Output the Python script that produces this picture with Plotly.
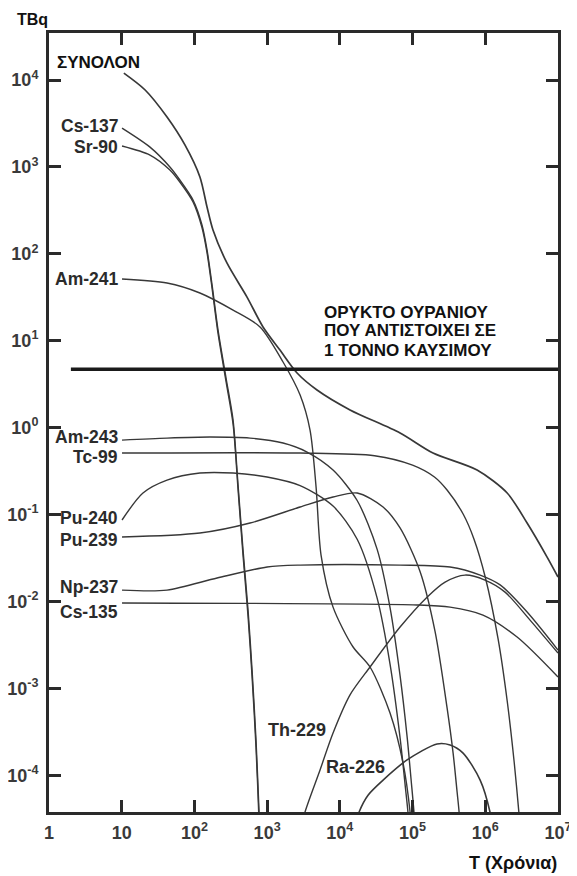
import math
import plotly.graph_objects as go

# ---------------- data (years, TBq) ----------------
total_T = [10.7, 21, 42, 74, 119, 149, 180, 281, 529, 878, 1500, 2580, 4850, 13800, 67300, 191000, 771000, 2.0e6, 3.76e6, 7.08e6, 1.0e7]
total_A = [12000, 7680, 3750, 1790, 766, 346, 188, 78, 31.8, 14.4, 7.8, 4.25, 2.71, 1.60, 0.868, 0.510, 0.325, 0.177, 0.0798, 0.0324, 0.0191]

cs137_T = [10.1, 24.5, 46, 63, 95.7, 127, 149, 175, 211, 272, 340, 398, 466, 546, 620, 703, 774, 850]
cs137_A = [2800, 1690, 998, 707, 416, 215, 111, 43.6, 13.3, 3.72, 1.22, 0.219, 0.039, 7.96e-3, 1.63e-3, 2.54e-4, 3.78e-5, 5e-6]

sr90_T = [10.1, 24.5, 46, 63, 95.7, 127, 149, 175, 211, 272, 340, 398, 466, 546, 620, 703, 770, 845]
sr90_A = [1740, 1370, 921, 670, 395, 200, 103, 40, 12.2, 3.4, 1.1, 0.195, 0.034, 6.8e-3, 1.38e-3, 2.1e-4, 3.3e-5, 4e-6]

am241_T = [10.1, 42, 119, 340, 798, 1655, 2840, 3890, 4710, 5510, 8060, 15200, 26000, 49000, 74000, 92400, 110000]
am241_A = [51.3, 46.1, 35.4, 22.5, 14.4, 5.69, 2.37, 0.937, 0.207, 0.0342, 8.6e-3, 2.99e-3, 1.76e-3, 5.2e-4, 1.38e-4, 3.78e-5, 5e-6]

am243_T = [10.1, 42, 164, 582, 1655, 3540, 8060, 17300, 32500, 49000, 67300, 84000, 95300, 105000, 120000]
am243_A = [0.719, 0.758, 0.78, 0.758, 0.665, 0.524, 0.325, 0.145, 0.040, 8.5e-3, 1.4e-3, 2.8e-4, 9e-5, 3.6e-5, 6e-6]

tc99_T = [10.1, 2840, 30000, 100000, 200000, 300000, 500000, 700000, 1.0e6, 1.5e6, 2.0e6, 2.5e6, 2.9e6, 3.3e6]
tc99_A = [0.51, 0.51, 0.475, 0.37, 0.27, 0.19, 0.10, 0.052, 0.019, 3.7e-3, 7.2e-4, 1.4e-4, 3.7e-5, 1e-5]

pu240_T = [10.1, 19.6, 42, 119, 340, 997, 2840, 8060, 17300, 32500, 49000, 67300, 80000, 87000, 100000]
pu240_A = [0.0865, 0.177, 0.249, 0.300, 0.300, 0.270, 0.215, 0.125, 0.052, 0.011, 1.9e-3, 2.7e-4, 7e-5, 3.5e-5, 5e-6]

pu239_T = [10.1, 119, 582, 2840, 8060, 17300, 39300, 67300, 127000, 204000, 298000, 361000, 409000, 436000, 500000]
pu239_A = [0.0551, 0.0612, 0.0798, 0.122, 0.159, 0.177, 0.122, 0.07, 0.022, 4.5e-3, 6e-4, 1.8e-4, 6.5e-5, 3.8e-5, 6e-6]

np237_T = [10.1, 42, 205, 999, 2840, 67300, 328000, 850000, 1.6e6, 3.76e6, 1.0e7]
np237_A = [0.0135, 0.0135, 0.0186, 0.0249, 0.0262, 0.0262, 0.0249, 0.0201, 0.0155, 7.55e-3, 2.76e-3]

cs135_T = [10.1, 115000, 328000, 930000, 2.74e6, 1.0e7]
cs135_A = [9.6e-3, 9.1e-3, 8.6e-3, 6.97e-3, 3.89e-3, 1.35e-3]

th229_T = [3000, 3320, 5340, 8060, 13800, 26000, 67300, 158000, 280000, 527000, 990000, 1.87e6, 4.13e6, 1.0e7]
th229_A = [2.6e-5, 3.78e-5, 1.15e-4, 3.06e-4, 8.4e-4, 1.76e-3, 5.07e-3, 0.0112, 0.0167, 0.0201, 0.0176, 0.0128, 6.1e-3, 2.55e-3]

ra226_T = [16000, 18400, 24400, 39300, 84000, 217000, 328000, 495000, 850000, 1.16e6, 1.3e6]
ra226_A = [2.5e-5, 3.78e-5, 5.9e-5, 8.8e-5, 1.5e-4, 2.29e-4, 2.23e-4, 1.8e-4, 8.8e-5, 3.78e-5, 2e-5]

ore_T = [2, 1.0e7]
ore_A = [4.7, 4.7]

x_tickvals = [1, 10, 1e2, 1e3, 1e4, 1e5, 1e6, 1e7]
x_ticktext = ["1", "10", "10<sup>2</sup>", "10<sup>3</sup>", "10<sup>4</sup>", "10<sup>5</sup>", "10<sup>6</sup>", "10<sup>7</sup>"]
y_tickvals = [1e-4, 1e-3, 1e-2, 1e-1, 1, 10, 1e2, 1e3, 1e4]
y_ticktext = ["10<sup>-4</sup>", "10<sup>-3</sup>", "10<sup>-2</sup>", "10<sup>-1</sup>", "10<sup>0</sup>",
              "10<sup>1</sup>", "10<sup>2</sup>", "10<sup>3</sup>", "10<sup>4</sup>"]

ore_lines = ["ΟΡΥΚΤΟ ΟΥΡΑΝΙΟΥ", "ΠΟΥ ΑΝΤΙΣΤΟΙΧΕΙ ΣΕ", "1 ΤΟΝΝΟ ΚΑΥΣΙΜΟΥ"]

# ---------------- figure ----------------
FONT = "Liberation Sans, Arial, sans-serif"
LINE = "#383838"
TXT = "#2b2b2b"

fig = go.Figure()

curves = [
    ("ΣΥΝΟΛΟΝ", total_T, total_A, 1.7),
    ("Cs-137", cs137_T, cs137_A, 1.4),
    ("Sr-90", sr90_T, sr90_A, 1.4),
    ("Am-241", am241_T, am241_A, 1.4),
    ("Am-243", am243_T, am243_A, 1.4),
    ("Tc-99", tc99_T, tc99_A, 1.4),
    ("Pu-240", pu240_T, pu240_A, 1.4),
    ("Pu-239", pu239_T, pu239_A, 1.4),
    ("Np-237", np237_T, np237_A, 1.4),
    ("Cs-135", cs135_T, cs135_A, 1.4),
    ("Th-229", th229_T, th229_A, 1.4),
    ("Ra-226", ra226_T, ra226_A, 1.6),
]
for name, T, A, w in curves:
    fig.add_trace(go.Scatter(x=T, y=A, mode="lines", name=name,
                             line=dict(color=LINE, width=w, shape="spline", smoothing=0.8),
                             showlegend=False, hoverinfo="skip"))

fig.add_trace(go.Scatter(x=ore_T, y=ore_A, mode="lines", name="ore",
                         line=dict(color="#1a1a1a", width=3.5),
                         showlegend=False, hoverinfo="skip"))

# curve labels at the start of each curve (right-aligned, left of the start)
start_labels = [
    ("Cs-137", cs137_T, cs137_A, 2),
    ("Sr-90", sr90_T, sr90_A, -1),
    ("Am-241", am241_T, am241_A, 0),
    ("Am-243", am243_T, am243_A, 3),
    ("Tc-99", tc99_T, tc99_A, -4),
    ("Pu-240", pu240_T, pu240_A, 2),
    ("Pu-239", pu239_T, pu239_A, -3),
    ("Np-237", np237_T, np237_A, 3),
    ("Cs-135", cs135_T, cs135_A, -9),
]
annotations = []
for name, T, A, ys in start_labels:
    annotations.append(dict(x=math.log10(T[0]), y=math.log10(A[0]), xref="x", yref="y",
                            text="<b>%s</b>" % name, showarrow=False, xanchor="right",
                            yanchor="middle", xshift=-3, yshift=ys, borderpad=0,
                            font=dict(family=FONT, size=17.5, color=TXT)))

annotations += [
    dict(x=0.083, y=4.196, xref="x", yref="y", text="<b>ΣΥΝΟΛΟΝ</b>", showarrow=False,
         xanchor="left", yanchor="middle", font=dict(family=FONT, size=17, color="#111")),
    dict(x=3.838, y=-3.48, xref="x", yref="y", text="<b>Th-229</b>", showarrow=False,
         xanchor="right", yanchor="middle", font=dict(family=FONT, size=18, color=TXT)),
    dict(x=4.649, y=-3.906, xref="x", yref="y", text="<b>Ra-226</b>", showarrow=False,
         xanchor="right", yanchor="middle", font=dict(family=FONT, size=18, color=TXT)),
    dict(x=-0.067, y=1.0167, xref="paper", yref="paper", text="<b>TBq</b>", showarrow=False,
         xanchor="left", yanchor="middle", font=dict(family=FONT, size=16, color="#111")),
    dict(x=0.821, y=-0.0655, xref="paper", yref="paper", text="<b>T (Χρόνια)</b>", showarrow=False,
         xanchor="left", yanchor="middle", font=dict(family=FONT, size=18, color="#111")),
]
for txt, ly in zip(ore_lines, [1.330, 1.112, 0.893]):
    annotations.append(dict(x=3.769, y=ly, xref="x", yref="y", text="<b>%s</b>" % txt, showarrow=False,
                            xanchor="left", yanchor="middle", borderpad=0,
                            font=dict(family=FONT, size=17, color="#111")))

axis_common = dict(type="log", showgrid=False, zeroline=False, showline=True, linewidth=3,
                   linecolor="#2a2a2a", mirror="ticks", ticks="inside", ticklen=12,
                   tickwidth=2.5, tickcolor="#2a2a2a",
                   tickfont=dict(family=FONT, size=18, color="#3a3a3a", weight="bold"))

# page body has an 8px margin: shrink the figure so the plot area lands at the reference spot
fig.update_layout(
    width=569, height=868,
    margin=dict(l=41, r=19, t=25, b=64, autoexpand=False),
    paper_bgcolor="white", plot_bgcolor="white",
    xaxis=dict(range=[0, 7], tickvals=x_tickvals, ticktext=x_ticktext, ticklabelstandoff=2, **axis_common),
    yaxis=dict(range=[-4.423, 4.541], tickvals=y_tickvals, ticktext=y_ticktext, ticklabelstandoff=4, **axis_common),
    annotations=annotations,
    showlegend=False,
)

fig.write_html("out.html")
